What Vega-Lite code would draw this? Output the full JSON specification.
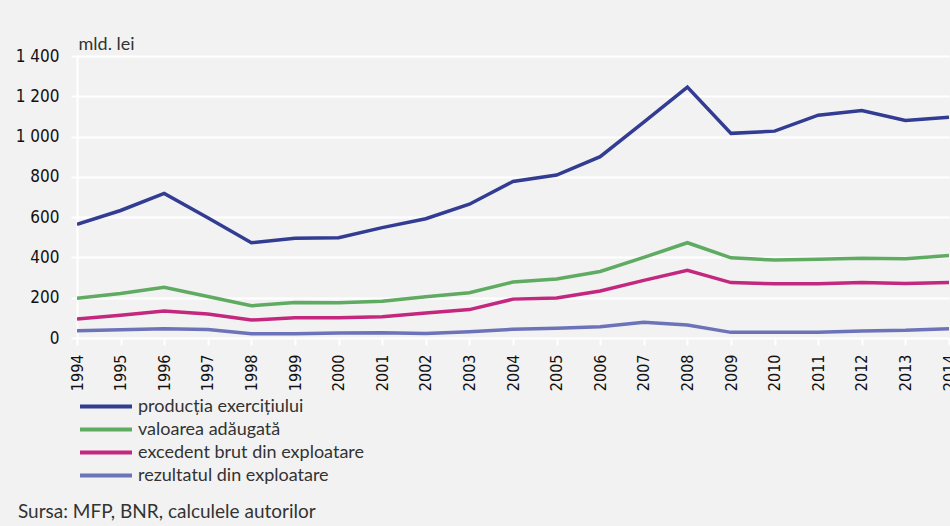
{
  "$schema": "https://vega.github.io/schema/vega-lite/v6.json",
  "width": 872,
  "height": 282,
  "autosize": {"type": "none"},
  "padding": {"left": 77, "top": 56, "right": 1, "bottom": 188},
  "background": "#f2f2f2",
  "config": {
    "view": {"stroke": null},
    "font": "Open Sans"
  },
  "title": {
    "text": "Sursa: MFP, BNR, calculele autorilor",
    "orient": "bottom",
    "anchor": "start",
    "frame": "group",
    "dx": -59,
    "offset": 16,
    "font": "Lato",
    "fontSize": 19,
    "fontWeight": "normal",
    "color": "#333333"
  },
  "data": {
    "values": [
      {"year": 1994, "series": "producția exercițiului", "value": 564},
      {"year": 1995, "series": "producția exercițiului", "value": 633},
      {"year": 1996, "series": "producția exercițiului", "value": 718},
      {"year": 1997, "series": "producția exercițiului", "value": 597},
      {"year": 1998, "series": "producția exercițiului", "value": 473},
      {"year": 1999, "series": "producția exercițiului", "value": 495},
      {"year": 2000, "series": "producția exercițiului", "value": 498},
      {"year": 2001, "series": "producția exercițiului", "value": 548},
      {"year": 2002, "series": "producția exercițiului", "value": 592},
      {"year": 2003, "series": "producția exercițiului", "value": 664},
      {"year": 2004, "series": "producția exercițiului", "value": 777},
      {"year": 2005, "series": "producția exercițiului", "value": 809},
      {"year": 2006, "series": "producția exercițiului", "value": 900},
      {"year": 2007, "series": "producția exercițiului", "value": 1072},
      {"year": 2008, "series": "producția exercițiului", "value": 1246},
      {"year": 2009, "series": "producția exercițiului", "value": 1016},
      {"year": 2010, "series": "producția exercițiului", "value": 1027},
      {"year": 2011, "series": "producția exercițiului", "value": 1106},
      {"year": 2012, "series": "producția exercițiului", "value": 1129},
      {"year": 2013, "series": "producția exercițiului", "value": 1080},
      {"year": 2014, "series": "producția exercițiului", "value": 1096},
      {"year": 1994, "series": "valoarea adăugată", "value": 197},
      {"year": 1995, "series": "valoarea adăugată", "value": 221},
      {"year": 1996, "series": "valoarea adăugată", "value": 252},
      {"year": 1997, "series": "valoarea adăugată", "value": 206},
      {"year": 1998, "series": "valoarea adăugată", "value": 160},
      {"year": 1999, "series": "valoarea adăugată", "value": 176},
      {"year": 2000, "series": "valoarea adăugată", "value": 175},
      {"year": 2001, "series": "valoarea adăugată", "value": 183},
      {"year": 2002, "series": "valoarea adăugată", "value": 205},
      {"year": 2003, "series": "valoarea adăugată", "value": 225},
      {"year": 2004, "series": "valoarea adăugată", "value": 278},
      {"year": 2005, "series": "valoarea adăugată", "value": 293},
      {"year": 2006, "series": "valoarea adăugată", "value": 330},
      {"year": 2007, "series": "valoarea adăugată", "value": 400},
      {"year": 2008, "series": "valoarea adăugată", "value": 473},
      {"year": 2009, "series": "valoarea adăugată", "value": 398},
      {"year": 2010, "series": "valoarea adăugată", "value": 387},
      {"year": 2011, "series": "valoarea adăugată", "value": 391},
      {"year": 2012, "series": "valoarea adăugată", "value": 396},
      {"year": 2013, "series": "valoarea adăugată", "value": 394},
      {"year": 2014, "series": "valoarea adăugată", "value": 409},
      {"year": 1994, "series": "excedent brut din exploatare", "value": 94},
      {"year": 1995, "series": "excedent brut din exploatare", "value": 113},
      {"year": 1996, "series": "excedent brut din exploatare", "value": 134},
      {"year": 1997, "series": "excedent brut din exploatare", "value": 119},
      {"year": 1998, "series": "excedent brut din exploatare", "value": 89},
      {"year": 1999, "series": "excedent brut din exploatare", "value": 101},
      {"year": 2000, "series": "excedent brut din exploatare", "value": 101},
      {"year": 2001, "series": "excedent brut din exploatare", "value": 105},
      {"year": 2002, "series": "excedent brut din exploatare", "value": 124},
      {"year": 2003, "series": "excedent brut din exploatare", "value": 141},
      {"year": 2004, "series": "excedent brut din exploatare", "value": 193},
      {"year": 2005, "series": "excedent brut din exploatare", "value": 199},
      {"year": 2006, "series": "excedent brut din exploatare", "value": 233},
      {"year": 2007, "series": "excedent brut din exploatare", "value": 286},
      {"year": 2008, "series": "excedent brut din exploatare", "value": 336},
      {"year": 2009, "series": "excedent brut din exploatare", "value": 275},
      {"year": 2010, "series": "excedent brut din exploatare", "value": 269},
      {"year": 2011, "series": "excedent brut din exploatare", "value": 269},
      {"year": 2012, "series": "excedent brut din exploatare", "value": 275},
      {"year": 2013, "series": "excedent brut din exploatare", "value": 271},
      {"year": 2014, "series": "excedent brut din exploatare", "value": 275},
      {"year": 1994, "series": "rezultatul din exploatare", "value": 36},
      {"year": 1995, "series": "rezultatul din exploatare", "value": 41},
      {"year": 1996, "series": "rezultatul din exploatare", "value": 46},
      {"year": 1997, "series": "rezultatul din exploatare", "value": 42},
      {"year": 1998, "series": "rezultatul din exploatare", "value": 21},
      {"year": 1999, "series": "rezultatul din exploatare", "value": 21},
      {"year": 2000, "series": "rezultatul din exploatare", "value": 25},
      {"year": 2001, "series": "rezultatul din exploatare", "value": 26},
      {"year": 2002, "series": "rezultatul din exploatare", "value": 22},
      {"year": 2003, "series": "rezultatul din exploatare", "value": 31},
      {"year": 2004, "series": "rezultatul din exploatare", "value": 43},
      {"year": 2005, "series": "rezultatul din exploatare", "value": 48},
      {"year": 2006, "series": "rezultatul din exploatare", "value": 56},
      {"year": 2007, "series": "rezultatul din exploatare", "value": 78},
      {"year": 2008, "series": "rezultatul din exploatare", "value": 65},
      {"year": 2009, "series": "rezultatul din exploatare", "value": 28},
      {"year": 2010, "series": "rezultatul din exploatare", "value": 28},
      {"year": 2011, "series": "rezultatul din exploatare", "value": 28},
      {"year": 2012, "series": "rezultatul din exploatare", "value": 35},
      {"year": 2013, "series": "rezultatul din exploatare", "value": 38},
      {"year": 2014, "series": "rezultatul din exploatare", "value": 46}
    ]
  },
  "mark": {"type": "line", "strokeWidth": 3.5, "clip": true},
  "encoding": {
    "x": {
      "field": "year",
      "type": "quantitative",
      "scale": {"domain": [1994, 2014], "nice": false, "zero": false},
      "axis": {
        "title": null,
        "values": [1994,1995,1996,1997,1998,1999,2000,2001,2002,2003,2004,2005,2006,2007,2008,2009,2010,2011,2012,2013,2014],
        "format": "d",
        "labelAngle": -90,
        "labelAlign": "right",
        "labelBaseline": "middle",
        "labelPadding": 9,
        "labelFont": "DejaVu Sans Condensed",
        "labelFontSize": 16,
        "labelColor": "#111111",
        "labelOverlap": false,
        "labelFlush": false,
        "domain": false,
        "ticks": true,
        "tickColor": "#ffffff",
        "tickWidth": 2,
        "tickSize": 7,
        "grid": false
      }
    },
    "y": {
      "field": "value",
      "type": "quantitative",
      "scale": {"domain": [0, 1400], "nice": false},
      "axis": {
        "title": "mld. lei",
        "titleAngle": 0,
        "titleAlign": "left",
        "titleBaseline": "alphabetic",
        "titleX": 1,
        "titleY": -7,
        "titleFont": "Lato",
        "titleFontSize": 18,
        "titleFontWeight": "normal",
        "titleColor": "#333333",
        "values": [0, 200, 400, 600, 800, 1000, 1200, 1400],
        "labelExpr": "replace(format(datum.value, ','), ',', ' ')",
        "labelFont": "DejaVu Sans Condensed",
        "labelFontSize": 17,
        "labelColor": "#111111",
        "labelPadding": 12,
        "domain": true,
        "domainColor": "#ffffff",
        "domainWidth": 2,
        "ticks": true,
        "tickColor": "#ffffff",
        "tickWidth": 2,
        "tickSize": 6,
        "grid": true,
        "gridColor": "#ffffff",
        "gridWidth": 2
      }
    },
    "color": {
      "field": "series",
      "type": "nominal",
      "scale": {
        "domain": ["producția exercițiului", "valoarea adăugată", "excedent brut din exploatare", "rezultatul din exploatare"],
        "range": ["#323c92", "#5fab62", "#c4277e", "#6d73b8"]
      },
      "legend": {
        "title": null,
        "orient": "none",
        "legendX": 1,
        "legendY": 339,
        "direction": "vertical",
        "symbolType": "stroke",
        "symbolSize": 2704,
        "symbolStrokeWidth": 4,
        "clipHeight": 23,
        "labelFont": "Lato",
        "labelFontSize": 18,
        "labelColor": "#333333",
        "labelOffset": 4,
        "rowPadding": 0,
        "labelLimit": 400
      }
    }
  }
}
